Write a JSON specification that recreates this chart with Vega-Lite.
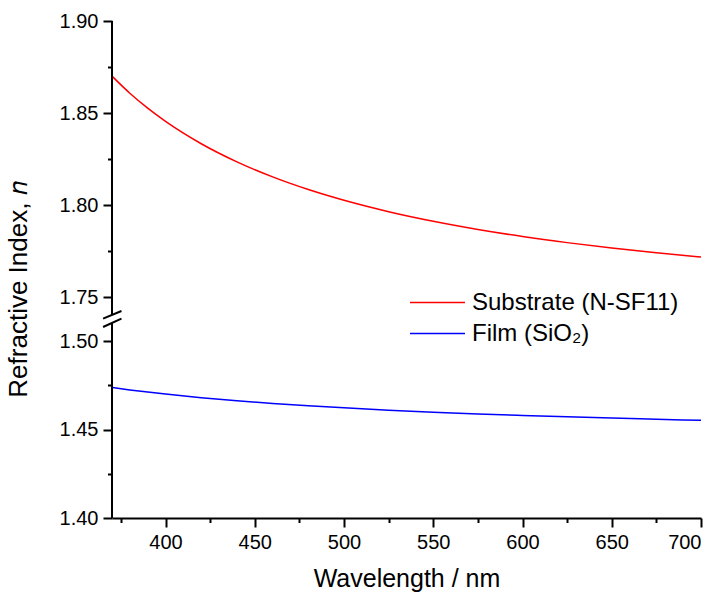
{
  "$schema": "https://vega.github.io/schema/vega-lite/v6.json",
  "autosize": {"type": "none"},
  "padding": {"left": 112, "top": 21, "right": 16, "bottom": 74},
  "width": 589,
  "height": 497,
  "background": "white",
  "config": {
    "view": {"stroke": null},
    "font": "Liberation Sans",
    "axis": {
      "labelFont": "Liberation Sans",
      "titleFont": "Liberation Sans",
      "labelColor": "black",
      "titleColor": "black",
      "tickColor": "black",
      "domainColor": "black",
      "titleFontWeight": "normal",
      "grid": false
    },
    "legend": {"labelFont": "Liberation Sans", "labelColor": "black"}
  },
  "datasets": {
    "curves": [
      {"wl": 370, "n": 1.87003, "series": "Substrate (N-SF11)"},
      {"wl": 380, "n": 1.86074, "series": "Substrate (N-SF11)"},
      {"wl": 390, "n": 1.85261, "series": "Substrate (N-SF11)"},
      {"wl": 400, "n": 1.84542, "series": "Substrate (N-SF11)"},
      {"wl": 420, "n": 1.83329, "series": "Substrate (N-SF11)"},
      {"wl": 440, "n": 1.82343, "series": "Substrate (N-SF11)"},
      {"wl": 460, "n": 1.81527, "series": "Substrate (N-SF11)"},
      {"wl": 480, "n": 1.80840, "series": "Substrate (N-SF11)"},
      {"wl": 500, "n": 1.80256, "series": "Substrate (N-SF11)"},
      {"wl": 525, "n": 1.79637, "series": "Substrate (N-SF11)"},
      {"wl": 550, "n": 1.79116, "series": "Substrate (N-SF11)"},
      {"wl": 575, "n": 1.78671, "series": "Substrate (N-SF11)"},
      {"wl": 600, "n": 1.78288, "series": "Substrate (N-SF11)"},
      {"wl": 625, "n": 1.77955, "series": "Substrate (N-SF11)"},
      {"wl": 650, "n": 1.77663, "series": "Substrate (N-SF11)"},
      {"wl": 675, "n": 1.77405, "series": "Substrate (N-SF11)"},
      {"wl": 700, "n": 1.77175, "series": "Substrate (N-SF11)"},
      {"wl": 370, "n": 1.47383, "series": "Film (SiO₂)"},
      {"wl": 380, "n": 1.47249, "series": "Film (SiO₂)"},
      {"wl": 390, "n": 1.47125, "series": "Film (SiO₂)"},
      {"wl": 400, "n": 1.47012, "series": "Film (SiO₂)"},
      {"wl": 420, "n": 1.46809, "series": "Film (SiO₂)"},
      {"wl": 440, "n": 1.46635, "series": "Film (SiO₂)"},
      {"wl": 460, "n": 1.46483, "series": "Film (SiO₂)"},
      {"wl": 480, "n": 1.46350, "series": "Film (SiO₂)"},
      {"wl": 500, "n": 1.46233, "series": "Film (SiO₂)"},
      {"wl": 525, "n": 1.46104, "series": "Film (SiO₂)"},
      {"wl": 550, "n": 1.45991, "series": "Film (SiO₂)"},
      {"wl": 575, "n": 1.45892, "series": "Film (SiO₂)"},
      {"wl": 600, "n": 1.45804, "series": "Film (SiO₂)"},
      {"wl": 625, "n": 1.45725, "series": "Film (SiO₂)"},
      {"wl": 650, "n": 1.45654, "series": "Film (SiO₂)"},
      {"wl": 675, "n": 1.45589, "series": "Film (SiO₂)"},
      {"wl": 700, "n": 1.45529, "series": "Film (SiO₂)"}
    ],
    "axisline": [
      {"x": 370, "y": 1.40, "y2": 1.6038},
      {"x": 370, "y": 1.649, "y2": 1.90}
    ],
    "breaks": [
      {"x": 365.0, "x2": 375.3, "y": 1.6281, "y2": 1.671},
      {"x": 365.0, "x2": 375.3, "y": 1.5807, "y2": 1.6281}
    ]
  },
  "resolve": {"axis": {"x": "independent", "y": "independent"}},
  "layer": [
    {
      "data": {"name": "curves"},
      "mark": {"type": "line", "strokeWidth": 1.5, "interpolate": "monotone"},
      "encoding": {
        "x": {
          "field": "wl", "type": "quantitative",
          "scale": {"domain": [370, 700], "nice": false, "zero": false},
          "axis": {
            "orient": "bottom",
            "title": "Wavelength / nm",
            "values": [400, 450, 500, 550, 600, 650, 700],
            "tickSize": 9, "tickWidth": 2,
            "domainWidth": 2,
            "labelFontSize": 20, "labelPadding": 5,
            "titleFontSize": 25, "titlePadding": 14
          }
        },
        "y": {
          "field": "n", "type": "quantitative",
          "scale": {"domain": [1.40, 1.50, 1.75, 1.90], "range": [497, 320.3, 276, 0], "nice": false, "zero": false},
          "axis": {
            "orient": "left",
            "title": "Refractive Index, 𝑛",
            "values": [1.40, 1.45, 1.50, 1.75, 1.80, 1.85, 1.90],
            "format": ".2f",
            "domain": false,
            "tickSize": 9, "tickWidth": 2,
            "labelFontSize": 20, "labelPadding": 5,
            "titleFontSize": 26, "titlePadding": 28, "titleY": 268
          }
        },
        "color": {
          "field": "series", "type": "nominal",
          "scale": {"domain": ["Substrate (N-SF11)", "Film (SiO₂)"], "range": ["#ff0000", "#0000ff"]},
          "legend": {
            "orient": "none", "legendX": 298, "legendY": 267,
            "title": null,
            "symbolType": "M-2,0H2", "symbolSize": 756, "symbolStrokeWidth": 1.5,
            "symbolOffset": 13,
            "labelFontSize": 24, "labelOffset": 20, "labelLimit": 0,
            "rowPadding": 4, "padding": 0
          }
        }
      }
    },
    {
      "data": {"name": "axisline"},
      "mark": {"type": "rule", "color": "black", "strokeWidth": 2},
      "encoding": {
        "x": {
          "field": "x", "type": "quantitative",
          "scale": {"domain": [370, 700], "nice": false, "zero": false},
          "axis": {
            "orient": "bottom", "title": null, "labels": false, "domain": false,
            "values": [375, 425, 475, 525, 575, 625, 675],
            "tickSize": 4.5, "tickWidth": 2
          }
        },
        "y": {
          "field": "y", "type": "quantitative",
          "axis": {
            "orient": "left", "title": null, "labels": false, "domain": false,
            "values": [1.425, 1.475, 1.775, 1.825, 1.875],
            "tickSize": 4.5, "tickWidth": 2
          }
        },
        "y2": {"field": "y2"}
      }
    },
    {
      "data": {"name": "breaks"},
      "mark": {"type": "rule", "color": "black", "strokeWidth": 2, "clip": false},
      "encoding": {
        "x": {"field": "x", "type": "quantitative", "axis": null},
        "x2": {"field": "x2"},
        "y": {"field": "y", "type": "quantitative", "axis": null},
        "y2": {"field": "y2"}
      }
    }
  ]
}
